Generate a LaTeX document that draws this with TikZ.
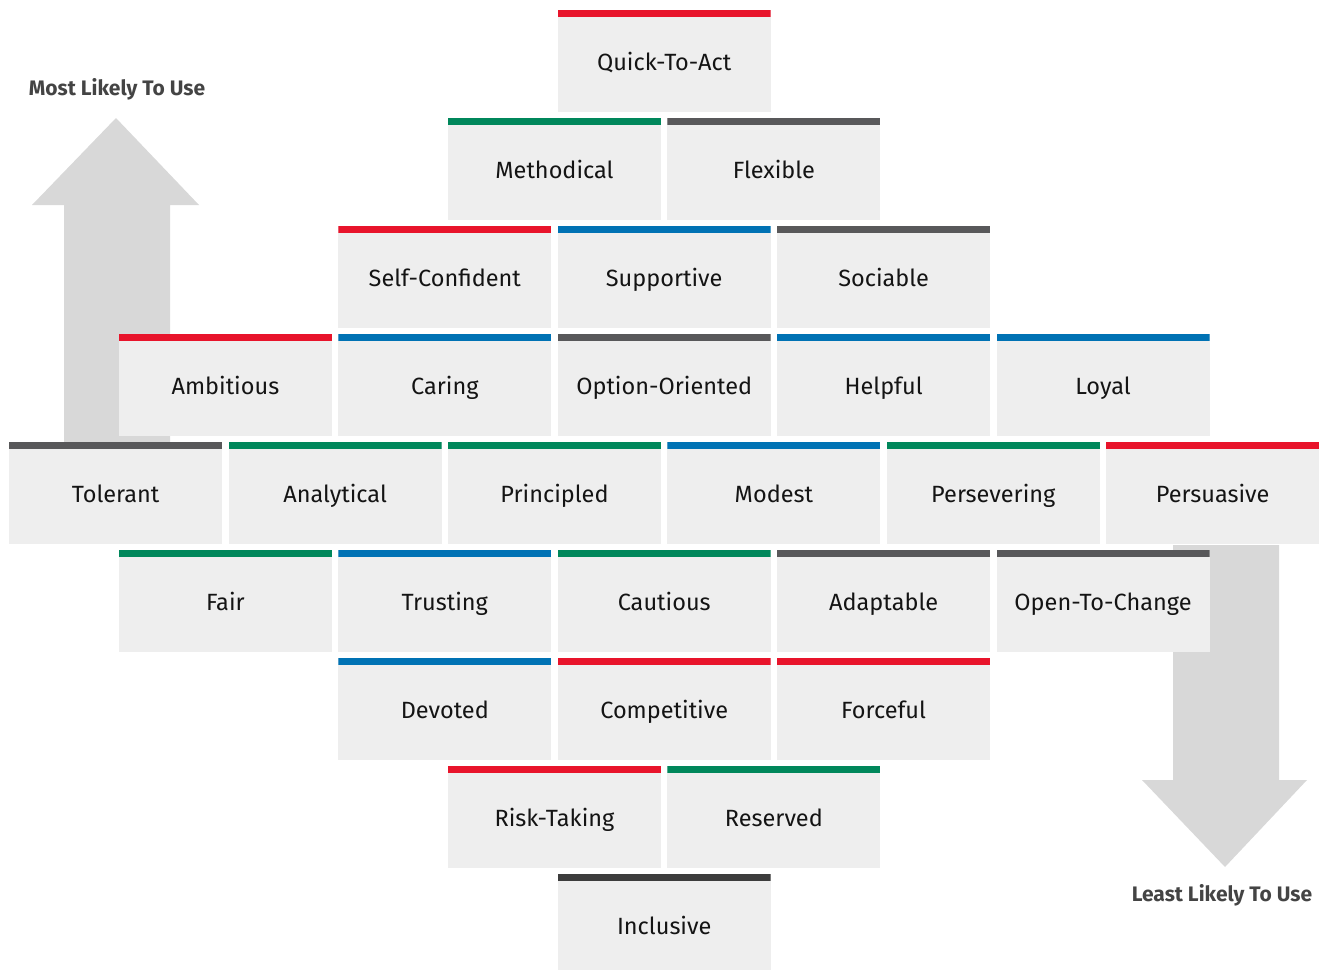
\documentclass[tikz,border=0pt]{standalone}
\usepackage{fontspec}
\setmainfont{Fira Sans}
\definecolor{cred}{HTML}{E8142B}
\definecolor{cgreen}{HTML}{00875B}
\definecolor{cblue}{HTML}{0072B4}
\definecolor{cgray}{HTML}{58585A}
\definecolor{cdark}{HTML}{3C3C3C}
\definecolor{boxfill}{HTML}{EEEEEE}
\definecolor{arrowfill}{HTML}{D8D8D8}
\definecolor{labeltext}{HTML}{444444}
\begin{document}
\begin{tikzpicture}[x=1pt,y=-1pt,
  trait/.style={rectangle, fill=boxfill, minimum width=213pt, minimum height=102pt,
    inner sep=0pt, anchor=north west, font=\fontsize{23.5}{27}\selectfont, text=black!92,
    text height=23pt, text depth=4pt,
    path picture={\fill[#1] (path picture bounding box.north west) rectangle ([yshift=-7pt]path picture bounding box.north east);}},
  bigarrow/.style={fill=arrowfill},
  axislabel/.style={font=\fontsize{21}{25}\selectfont\bfseries, text=labeltext, inner sep=0pt}]
\useasboundingbox (0,0) rectangle (1325,969);
% arrows
\fill[bigarrow] (64,442) -- (64,205) -- (32,205) -- (116,118) -- (199,205) -- (170,205) -- (170,442) -- cycle;
\fill[bigarrow] (1173,545) -- (1173,780) -- (1142,780) -- (1225,867) -- (1307,780) -- (1279,780) -- (1279,545) -- cycle;
\node[axislabel] (most) at (117,89) {Most Likely To Use};
\node[axislabel] (least) at (1222,895) {Least Likely To Use};
% boxes
\foreach \k/\r/\c/\n/\t in {
  5/0/cred/quick/Quick-To-Act,
  4/1/cgreen/methodical/Methodical, 6/1/cgray/flexible/Flexible,
  3/2/cred/selfconf/Self-Confident, 5/2/cblue/supportive/Supportive, 7/2/cgray/sociable/Sociable,
  1/3/cred/ambitious/Ambitious, 3/3/cblue/caring/Caring, 5/3/cgray/option/Option-Oriented, 7/3/cblue/helpful/Helpful, 9/3/cblue/loyal/Loyal,
  0/4/cgray/tolerant/Tolerant, 2/4/cgreen/analytical/Analytical, 4/4/cgreen/principled/Principled, 6/4/cblue/modest/Modest, 8/4/cgreen/persevering/Persevering, 10/4/cred/persuasive/Persuasive,
  1/5/cgreen/fair/Fair, 3/5/cblue/trusting/Trusting, 5/5/cgreen/cautious/Cautious, 7/5/cgray/adaptable/Adaptable, 9/5/cgray/opentochange/Open-To-Change,
  3/6/cblue/devoted/Devoted, 5/6/cred/competitive/Competitive, 7/6/cred/forceful/Forceful,
  4/7/cred/risktaking/Risk-Taking, 6/7/cgreen/reserved/Reserved,
  5/8/cdark/inclusive/Inclusive}
  \node[trait=\c] (\n) at ({9+109.7*\k},{10+108*\r}) {\t};
\end{tikzpicture}
\end{document}
